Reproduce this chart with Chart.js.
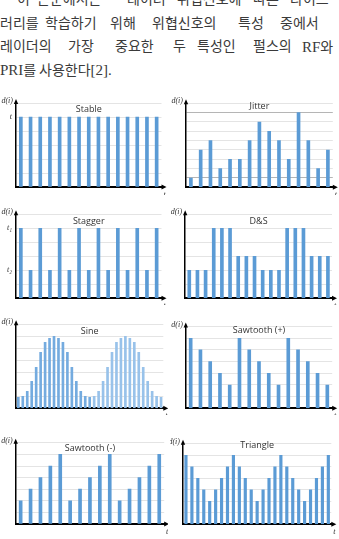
<!DOCTYPE html>
<html><head><meta charset="utf-8">
<script src="https://cdn.jsdelivr.net/npm/chart.js@4.4.1/dist/chart.umd.min.js"></script>
<style>
html,body{margin:0;padding:0;background:#fff;width:339px;height:539px;overflow:hidden;position:relative}
.w{position:absolute;font-family:"Liberation Serif","Noto Sans CJK KR";font-size:14px;line-height:14px;color:#3a3a3a;white-space:nowrap}
.l{font-size:15px}
canvas{position:absolute}
</style></head>
<body>
<div class="w" style="top:-7px;left:17px">이</div>
<div class="w" style="top:-7px;left:37px">논문에서는</div>
<div class="w" style="top:-7px;left:127px">레이더</div>
<div class="w" style="top:-7px;left:177px">위협신호에</div>
<div class="w" style="top:-7px;left:253px">따른</div>
<div class="w" style="top:-7px;left:290px">타이프</div>

<div class="w" style="top:17px;left:0px">러리를</div>
<div class="w" style="top:17px;left:45px">학습하기</div>
<div class="w" style="top:17px;left:110px">위해</div>
<div class="w" style="top:17px;left:152px">위협신호의</div>
<div class="w" style="top:17px;left:238px">특성</div>
<div class="w" style="top:17px;left:280px">중에서</div>

<div class="w" style="top:40px;left:0px">레이더의</div>
<div class="w" style="top:40px;left:68px">가장</div>
<div class="w" style="top:40px;left:115px">중요한</div>
<div class="w" style="top:40px;left:173px">두</div>
<div class="w" style="top:40px;left:197px">특성인</div>
<div class="w" style="top:40px;left:253px">펄스의</div>
<div class="w" style="top:40px;left:302px"><span class="l">RF</span>와</div>

<div class="w" style="top:63px;left:0px"><span class="l">PRI</span>를</div>
<div class="w" style="top:63px;left:39px">사용한다<span class="l">[2].</span></div>

<canvas id="c1"></canvas><canvas id="c2"></canvas>
<canvas id="c3"></canvas><canvas id="c4"></canvas>
<canvas id="c5"></canvas><canvas id="c6"></canvas>
<canvas id="c7"></canvas><canvas id="c8"></canvas>
<script>
// ---- data ----
const stableValues   = [1,1,1,1,1,1,1,1,1,1,1,1,1,1,1];
const jitterValues   = [1,4,5,2,3,3,5,7,6,5,3,8,5,2,4];
const staggerValues  = [5,2,5,2,5,2,5,2,5,2,5,2,5,2,5];
const dsValues       = [2,2,2,5,5,5,3,3,3,2,2,2,5,5,5,3,3,3];
const sineValues     = [1.1,1.2,1.7,2.7,4.1,5.6,6.6,7.0,7.2,7.0,6.6,5.6,4.1,2.7,1.7,1.2,1.1,
                        1.2,1.7,2.7,4.1,5.6,6.6,7.0,7.2,7.0,6.6,5.6,4.1,2.7,1.7,1.2,1.1];
const sawPlusValues  = [6,5,4,3,2,6,5,4,3,2,6,5,4,3,2];
const sawMinusValues = [2,3,4,5,6,2,3,4,5,6,2,3,4,5,6];
const triangleValues = [6,5,4,3,2,3,4,5,6,5,4,3,2,3,4,5,6,5,4,3,2,3,4,5,6];
const titles = ['Stable','Jitter','Stagger','D&S','Sine','Sawtooth (+)','Sawtooth (-)','Triangle'];
const stableTickLabels  = [[1,'t']];
const staggerTickLabels = [[5,'t₁'],[2,'t₂']];

// ---- layout ----
const panels = [
 {id:'c1',cx:0,  cy:95, cw:168,ch:100,axisX:16,   rightX:161.5,topY:103,  max:1.2,step:0.2,values:stableValues,  title:titles[0],titleY:109,yl:stableTickLabels,bar:3},
 {id:'c2',cx:170,cy:95, cw:169,ch:100,axisX:186,  rightX:332.8,topY:103.3,max:9,  step:1,  values:jitterValues,  title:titles[1],titleY:106,bar:3,dark:[1,8]},
 {id:'c3',cx:0,  cy:205,cw:168,ch:100,axisX:16,   rightX:161.5,topY:214.3,max:6,  step:1,  values:staggerValues, title:titles[2],titleY:221,yl:staggerTickLabels,bar:3},
 {id:'c4',cx:170,cy:205,cw:169,ch:100,axisX:185.2,rightX:332,  topY:214.3,max:6,  step:1,  values:dsValues,      title:titles[3],titleY:221,bar:3},
 {id:'c5',cx:0,  cy:315,cw:168,ch:100,axisX:16.1, rightX:163.3,topY:324.3,max:8.4,step:1.2,values:sineValues,    title:titles[4],titleY:331,bar:2,sine:true},
 {id:'c6',cx:170,cy:315,cw:169,ch:100,axisX:185.8,rightX:332.2,topY:326.6,max:7,  step:1,  values:sawPlusValues, title:titles[5],titleY:330.7,bar:3},
 {id:'c7',cx:0,  cy:430,cw:168,ch:109,axisX:15.7, rightX:164.2,topY:442.8,max:7,  step:1,  values:sawMinusValues,title:titles[6],titleY:448,bar:3},
 {id:'c8',cx:170,cy:430,cw:169,ch:109,axisX:183,  rightX:331.3,topY:443.8,max:7,  step:1,  values:triangleValues,title:titles[7],titleY:445,bar:2.5}
];
const baseY = {c1:187,c2:187.3,c3:298.3,c4:298.3,c5:408.3,c6:408.3,c7:524,c8:524.3};

const decor = {
  id:'decor',
  afterDraw(chart, args, o){
    const ctx = chart.ctx, a = chart.chartArea, ys = chart.scales.y;
    ctx.save();
    ctx.fillStyle = '#000';
    ctx.beginPath();
    ctx.moveTo(a.left, a.top-4); ctx.lineTo(a.left-2.2, a.top+1); ctx.lineTo(a.left+2.2, a.top+1); ctx.closePath(); ctx.fill();
    ctx.beginPath();
    ctx.moveTo(a.right+5, a.bottom); ctx.lineTo(a.right, a.bottom-2.5); ctx.lineTo(a.right, a.bottom+2.5); ctx.closePath(); ctx.fill();
    ctx.fillStyle = '#333';
    ctx.font = 'italic 8px "Liberation Serif"';
    ctx.textAlign = 'right'; ctx.textBaseline = 'middle';
    ctx.fillText('d(i)', a.left-3, a.top-2);
    ctx.textAlign = 'center';
    ctx.fillText('t', a.right+3, a.bottom+8);
    (o.yl||[]).forEach(([v,t])=>{
      ctx.textAlign='right';
      ctx.fillText(t, a.left-4, ys.getPixelForValue(v));
    });
    ctx.font = '9px "Open Sans"'; ctx.fillStyle = '#333'; ctx.textAlign='center';
    ctx.fillText(o.title, (a.left+a.right)/2, o.titleY);
    ctx.restore();
  }
};

panels.forEach(p=>{
  const cv = document.getElementById(p.id);
  cv.width = p.cw; cv.height = p.ch;
  cv.style.left = p.cx+'px'; cv.style.top = p.cy+'px';
  const b = baseY[p.id];
  const colors = p.values.map((v,i)=> p.sine ? (i<17 ? '#74abdf' : '#98c2ea') : '#5b9bd5');
  new Chart(cv, {
    type:'bar',
    data:{labels:p.values.map((v,i)=>String(i+1)),
      datasets:[{data:p.values, backgroundColor:colors, barThickness:p.bar, borderWidth:0}]},
    options:{
      responsive:false, animation:false, devicePixelRatio:1,
      layout:{padding:{top:p.topY-p.cy, right:p.cx+p.cw-p.rightX, left:0, bottom:0}},
      plugins:{legend:{display:false}, tooltip:{enabled:false},
        decor:{title:p.title, titleY:p.titleY-p.cy, yl:p.yl}},
      scales:{
        x:{offset:true, grid:{display:false, drawTicks:false},
           border:{display:true, color:'#000', width:2},
           ticks:{display:false},
           afterFit:s=>{s.height = p.cy+p.ch-b;}},
        y:{min:0, max:p.max,
           ticks:{display:false, stepSize:p.step},
           grid:{drawTicks:false, lineWidth:1,
             color:c=> (p.dark && c.tick && p.dark.includes(Math.round(c.tick.value))) ? '#b5b5b5' : '#e4e4e4'},
           border:{display:true, color:'#000', width:1.5},
           afterFit:s=>{s.width = p.axisX-p.cx;}}
      }
    },
    plugins:[decor]
  });
});
</script>
</body></html>
